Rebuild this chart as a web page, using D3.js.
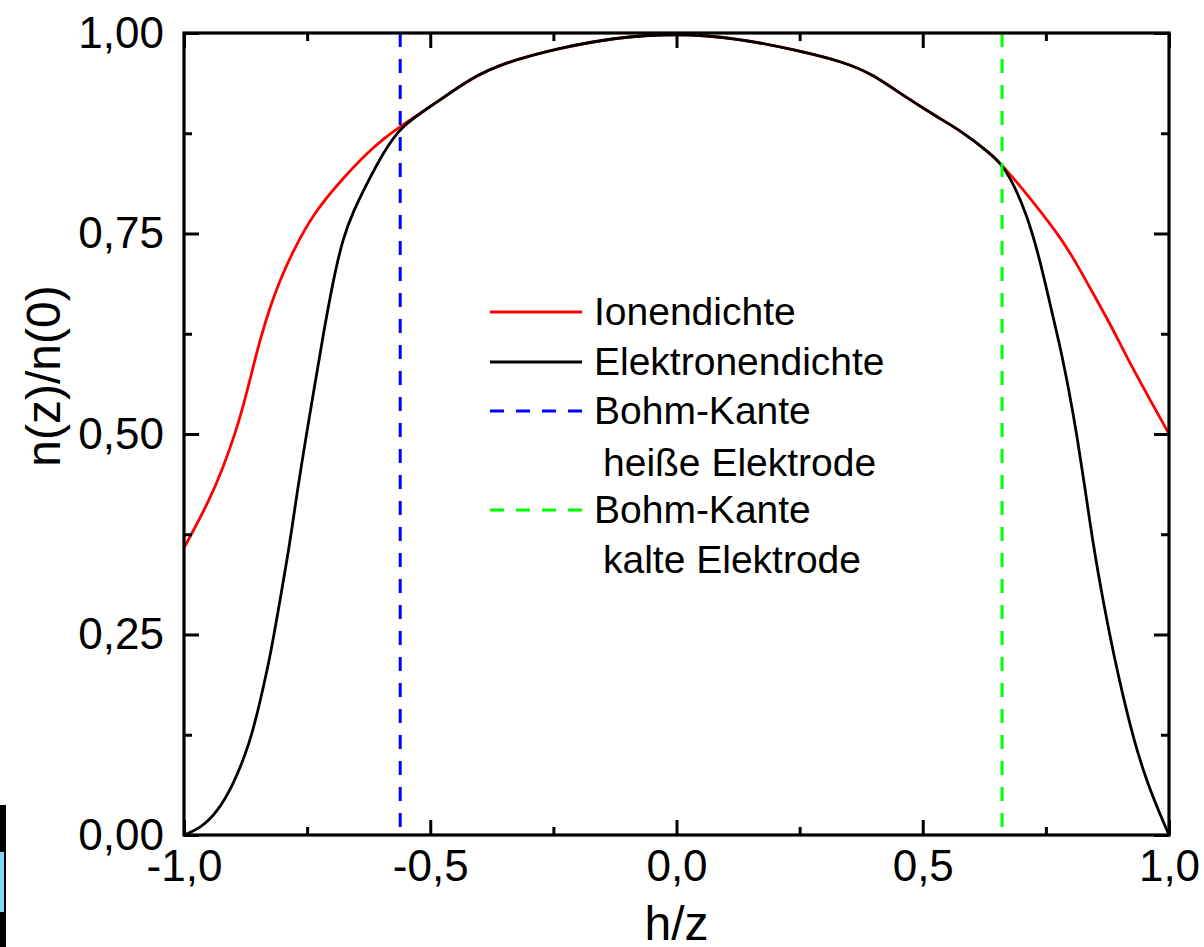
<!DOCTYPE html>
<html>
<head>
<meta charset="utf-8">
<script src="https://cdn.jsdelivr.net/npm/d3@7"></script>
<style>
  html, body { margin: 0; padding: 0; background: #ffffff; }
  svg { display: block; }
  text { font-family: "Liberation Sans", Arial, sans-serif; fill: #000; }
</style>
</head>
<body>
<svg id="chart" width="1204" height="947"></svg>
<script>
// ---- data ----
const xMajorTicks = [-1.0, -0.5, 0.0, 0.5, 1.0];
const xMinorTicks = [-0.75, -0.25, 0.25, 0.75];
const xTickLabels = ["-1,0", "-0,5", "0,0", "0,5", "1,0"];
const yMajorTicks = [0, 0.25, 0.5, 0.75, 1.0];
const yMinorTicks = [0.125, 0.375, 0.625, 0.875];
const yTickLabels = ["0,00", "0,25", "0,50", "0,75", "1,00"];

// shared central part (ions and electrons coincide)
const centerX = [-0.56, -0.49, -0.42, -0.35, -0.24, -0.13, 0.0, 0.13, 0.24, 0.34, 0.40, 0.46, 0.53, 0.58, 0.637, 0.657];
const centerY = [0.884, 0.912, 0.943, 0.963, 0.981, 0.994, 1.0, 0.993, 0.979, 0.964, 0.948, 0.922, 0.895, 0.877, 0.850, 0.838];

// Ionendichte (red) – outer branches
const ionLeftX  = [-1.0, -0.95, -0.92, -0.896, -0.88, -0.863, -0.846, -0.825, -0.805, -0.778, -0.737, -0.683, -0.629, -0.595];
const ionLeftY  = [0.358, 0.415, 0.459, 0.501, 0.534, 0.575, 0.617, 0.659, 0.692, 0.729, 0.775, 0.815, 0.850, 0.868];
const ionRightX = [0.711, 0.779, 0.812, 0.846, 0.880, 0.914, 0.954, 1.0];
const ionRightY = [0.800, 0.746, 0.713, 0.675, 0.638, 0.596, 0.551, 0.500];

// Elektronendichte (black) – outer branches
const elLeftX  = [-1.0, -0.968, -0.934, -0.90, -0.866, -0.846, -0.825, -0.805, -0.785, -0.771, -0.751, -0.734, -0.717, -0.697, -0.677, -0.656, -0.629, -0.595];
const elLeftY  = [0.0, 0.008, 0.027, 0.062, 0.115, 0.165, 0.222, 0.293, 0.364, 0.425, 0.501, 0.563, 0.625, 0.692, 0.745, 0.778, 0.812, 0.851];
const elRightX = [0.677, 0.711, 0.738, 0.758, 0.779, 0.796, 0.813, 0.830, 0.846, 0.867, 0.887, 0.907, 0.928, 0.954, 0.981, 1.0];
const elRightY = [0.821, 0.775, 0.717, 0.663, 0.609, 0.557, 0.499, 0.430, 0.362, 0.289, 0.227, 0.172, 0.120, 0.068, 0.027, 0.0];

// Bohm edges
const bohmHot = -0.561;
const bohmCold = 0.661;

const legendLabels = ["Ionendichte", "Elektronendichte", "Bohm-Kante", "heiße Elektrode", "Bohm-Kante", "kalte Elektrode"];
const xTitle = "h/z";
const yTitle = "n(z)/n(0)";

// ---- build series ----
function zip(xs, ys) { return xs.map((x, i) => ({x: x, y: ys[i]})); }
const ionData = zip(ionLeftX, ionLeftY).concat(zip(centerX, centerY), zip(ionRightX, ionRightY));
const elData = zip(elLeftX, elLeftY).concat(zip(centerX, centerY), zip(elRightX, elRightY));

// ---- layout ----
const L = 184, R = 1169, T = 33, B = 835;
const svg = d3.select("#chart");
const x = d3.scaleLinear().domain([-1, 1]).range([L, R]);
const y = d3.scaleLinear().domain([0, 1]).range([B, T]);

// decorative artifact at bottom-left edge
svg.append("rect").attr("x", 0).attr("y", 805).attr("width", 6).attr("height", 142).attr("fill", "#000");
svg.append("rect").attr("x", 0).attr("y", 852).attr("width", 4).attr("height", 60).attr("fill", "#7fd8f0");

const line = d3.line().x(d => x(d.x)).y(d => y(d.y)).curve(d3.curveBasis);

const plot = svg.append("g");
plot.append("path").datum(ionData).attr("d", line)
  .attr("fill", "none").attr("stroke", "#ff0000").attr("stroke-width", 2.8);
plot.append("path").datum(elData).attr("d", line)
  .attr("fill", "none").attr("stroke", "#000000").attr("stroke-width", 2.8);

// Bohm edges
plot.append("line").attr("x1", x(bohmHot)).attr("x2", x(bohmHot)).attr("y1", y(1)).attr("y2", y(0))
  .attr("stroke", "#0000ff").attr("stroke-width", 3).attr("stroke-dasharray", "14,12");
plot.append("line").attr("x1", x(bohmCold)).attr("x2", x(bohmCold)).attr("y1", y(1)).attr("y2", y(0))
  .attr("stroke", "#00ff00").attr("stroke-width", 3).attr("stroke-dasharray", "14,12");

// ---- axes ----
function styleAxis(g) {
  g.select(".domain").remove();
  g.selectAll(".tick line").attr("stroke", "#000").attr("stroke-width", 3);
}
const fmtX = d => xTickLabels[xMajorTicks.indexOf(d)];
const fmtY = d => yTickLabels[yMajorTicks.indexOf(d)];

svg.append("g").attr("transform", `translate(0,${B})`)
  .call(d3.axisBottom(x).tickValues(xMajorTicks).tickSize(-15).tickPadding(15).tickFormat(fmtX))
  .call(styleAxis).selectAll("text").attr("font-size", 44).attr("font-family", "Liberation Sans, Arial, sans-serif");
svg.append("g").attr("transform", `translate(0,${B})`)
  .call(d3.axisBottom(x).tickValues(xMinorTicks).tickSize(-8).tickFormat(""))
  .call(styleAxis);
svg.append("g").attr("transform", `translate(0,${T})`)
  .call(d3.axisTop(x).tickValues(xMajorTicks).tickSize(-15).tickFormat(""))
  .call(styleAxis);
svg.append("g").attr("transform", `translate(0,${T})`)
  .call(d3.axisTop(x).tickValues(xMinorTicks).tickSize(-8).tickFormat(""))
  .call(styleAxis);

svg.append("g").attr("transform", `translate(${L},0)`)
  .call(d3.axisLeft(y).tickValues(yMajorTicks).tickSize(-15).tickPadding(20).tickFormat(fmtY))
  .call(styleAxis).selectAll("text").attr("font-size", 44).attr("font-family", "Liberation Sans, Arial, sans-serif");
svg.append("g").attr("transform", `translate(${L},0)`)
  .call(d3.axisLeft(y).tickValues(yMinorTicks).tickSize(-8).tickFormat(""))
  .call(styleAxis);
svg.append("g").attr("transform", `translate(${R},0)`)
  .call(d3.axisRight(y).tickValues(yMajorTicks).tickSize(-15).tickFormat(""))
  .call(styleAxis);
svg.append("g").attr("transform", `translate(${R},0)`)
  .call(d3.axisRight(y).tickValues(yMinorTicks).tickSize(-8).tickFormat(""))
  .call(styleAxis);

// frame
svg.append("rect").attr("x", L).attr("y", T).attr("width", R - L).attr("height", B - T)
  .attr("fill", "none").attr("stroke", "#000").attr("stroke-width", 3.2);

// axis titles
svg.append("text").attr("x", (L + R) / 2).attr("y", 940).attr("text-anchor", "middle")
  .attr("font-size", 48).text(xTitle);
svg.append("text").attr("transform", "translate(60,376) rotate(-90)").attr("text-anchor", "middle")
  .attr("font-size", 48).text(yTitle);

// ---- legend ----
const legendRows = [
  {label: 0, y: 312, line: true, color: "#ff0000", dash: null},
  {label: 1, y: 362, line: true, color: "#000000", dash: null},
  {label: 2, y: 411, line: true, color: "#0000ff", dash: "14,12"},
  {label: 3, y: 463, line: false},
  {label: 4, y: 510, line: true, color: "#00ff00", dash: "14,12"},
  {label: 5, y: 560, line: false}
];
const lg = svg.append("g");
legendRows.forEach(r => {
  if (r.line) {
    lg.append("line").attr("x1", 490).attr("x2", 582).attr("y1", r.y).attr("y2", r.y)
      .attr("stroke", r.color).attr("stroke-width", 2.8)
      .attr("stroke-dasharray", r.dash);
  }
  lg.append("text").attr("x", r.line ? 594 : 603).attr("y", r.y + 13)
    .attr("font-size", 39).text(legendLabels[r.label]);
});
</script>
</body>
</html>
